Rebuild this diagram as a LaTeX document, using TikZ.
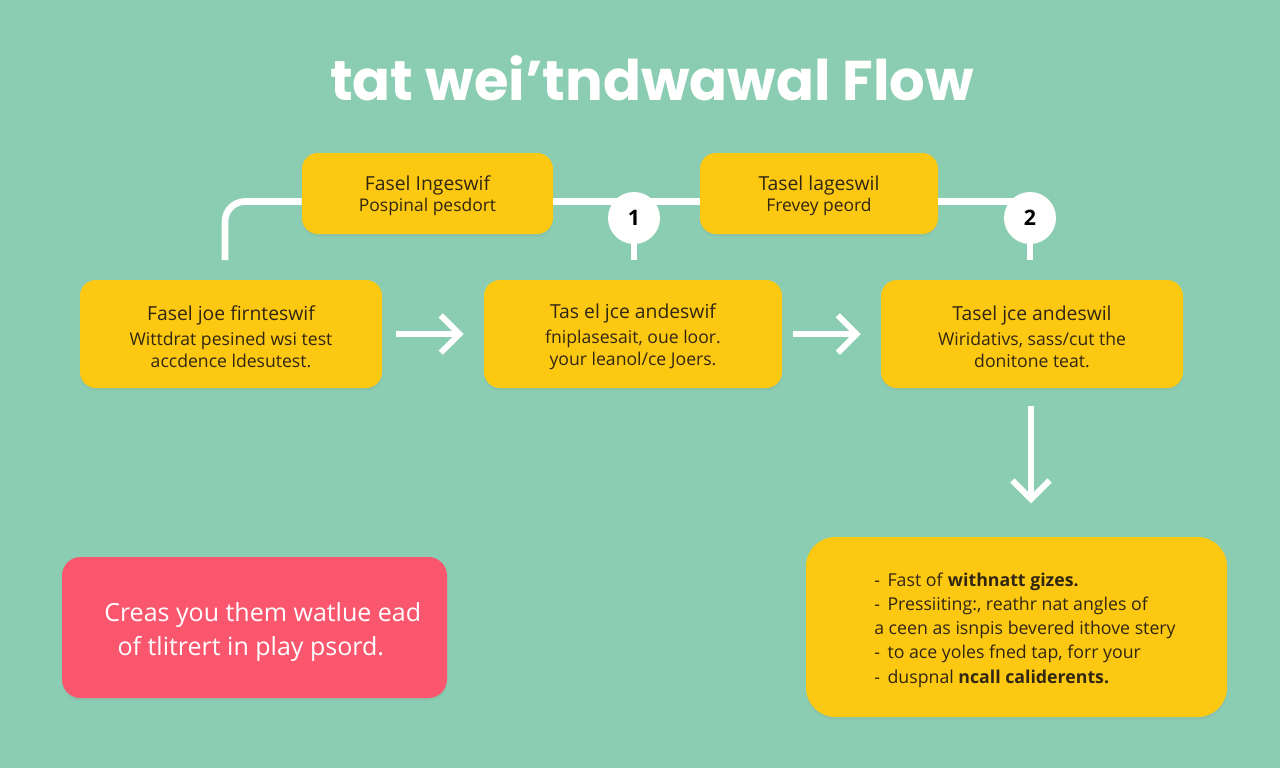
\documentclass[tikz,border=0pt]{standalone}
\usepackage{fontspec}
\setmainfont{Open Sans}
\newfontfamily\titlefont{Poppins}
\usetikzlibrary{arrows.meta,shadows}
\definecolor{bg}{RGB}{138,205,178}
\definecolor{ybox}{RGB}{252,200,18}
\definecolor{rbox}{RGB}{250,87,111}
\definecolor{ink}{RGB}{48,38,18}
\newcommand{\hd}{\fontsize{14.5}{16}\selectfont}
\tikzset{
  ybx/.style={fill=ybox, rounded corners=12pt, inner sep=0pt,
    drop shadow={opacity=0.12, shadow xshift=0pt, shadow yshift=-2pt}},
  toptxt/.style={align=center, text=ink, inner sep=0pt, font=\fontsize{13.1}{15.75}\selectfont},
  midtxt/.style={align=center, text=ink, inner sep=0pt, font=\fontsize{13.2}{16.5}\selectfont},
  conn/.style={draw=white, line width=5pt},
  arr/.style={draw=white, line width=4.5pt, -{Straight Barb[length=14pt,width=28pt]}},
  numc/.style={circle, fill=white, minimum size=39pt, inner sep=0pt, font=\fontsize{16}{18}\selectfont\bfseries, text=black},
}
\begin{document}
\begin{tikzpicture}[x=0.75pt,y=-0.75pt]
\fill[bg] (0,0) rectangle (1280,768);
\useasboundingbox (0,0) rectangle (1280,768);

\node[font=\titlefont\bfseries\fontsize{42}{46}\selectfont, text=white] (title) at (652,78) {tat wei’tndwawal Flow};

% top boxes
\node[ybx, minimum width=251*0.75pt, minimum height=81*0.75pt] (a) at (427.5,193.5) {};
\node[ybx, minimum width=238*0.75pt, minimum height=81*0.75pt] (b) at (819,193.5) {};
\node[toptxt] (at) at (427.5,196) {{\hd Fasel Ingeswif}\\Pospinal pesdort};
\node[toptxt] (bt) at (819,196) {{\hd Tasel lageswil}\\Frevey peord};

% middle boxes
\node[ybx, minimum width=302*0.75pt, minimum height=108*0.75pt] (c) at (231,334) {};
\node[ybx, minimum width=298*0.75pt, minimum height=108*0.75pt] (d) at (633,334) {};
\node[ybx, minimum width=302*0.75pt, minimum height=108*0.75pt] (e) at (1032,334) {};
\node[midtxt] (ct) at (231,337) {{\hd Fasel joe firnteswif}\\[2pt]Wittdrat pesined wsi test\\accdence ldesutest.};
\node[midtxt] (dt) at (633,337) {{\hd Tas el jce andeswif}\\[2pt]fniplasesait, oue loor.\\your leanol/ce Joers.};
\node[midtxt] (et) at (1032,337) {{\hd Tasel jce andeswil}\\[2pt]Wiridativs, sass/cut the\\donitone teat.};

% connectors on top
\coordinate (l0) at (225,260);
\draw[conn, rounded corners=15pt] (l0) |- ([yshift=-6pt]a.west);
\draw[conn] ([yshift=-6pt]a.east) -- ([yshift=-6pt]b.west);
\node[numc] (n1) at (634,218) {1};
\draw[conn] (n1.south) -- (n1.south |- l0);
\draw[conn] ([yshift=-6pt]b.east) -- ([yshift=-6pt]b.east -| 1030,0);
\node[numc] (n2) at (1030,218) {2};
\draw[conn] (n2.south) -- (n2.south |- l0);

% bottom boxes
\node[fill=rbox, rounded corners=14pt, minimum width=385*0.75pt, minimum height=141*0.75pt,
  drop shadow={opacity=0.12, shadow xshift=0pt, shadow yshift=-2pt}] (r) at (254.5,627.5) {};
\node[anchor=west, text=white, align=left, font=\fontsize{18.75}{25.5}\selectfont, inner sep=0pt] (rt) at (104,632) {Creas you them watlue ead\\\hspace*{10pt}of tlitrert in play psord.};

\node[ybx, rounded corners=22pt, minimum width=421*0.75pt, minimum height=180*0.75pt] (f) at (1016.5,627) {};
\node[anchor=west, text=ink, align=left, font=\fontsize{13.3}{18.2}\selectfont, inner sep=0pt] (ft) at (874,630)
{-\ \,Fast of \textbf{withnatt gizes.}\\
-\ \,Pressiiting:, reathr nat angles of\\
a ceen as isnpis bevered ithove stery\\
-\ \,to ace yoles fned tap, forr your\\
-\ \,duspnal \textbf{ncall caliderents.}};

% arrows
\draw[arr, shorten <=10pt, shorten >=15pt] (c.east) -- (d.west);
\draw[arr, shorten <=8pt, shorten >=15pt] (d.east) -- (e.west);
\draw[arr, shorten <=13pt, shorten >=25pt] (e.south -| 1031,0) -- (f.north -| 1031,0);
\end{tikzpicture}
\end{document}
